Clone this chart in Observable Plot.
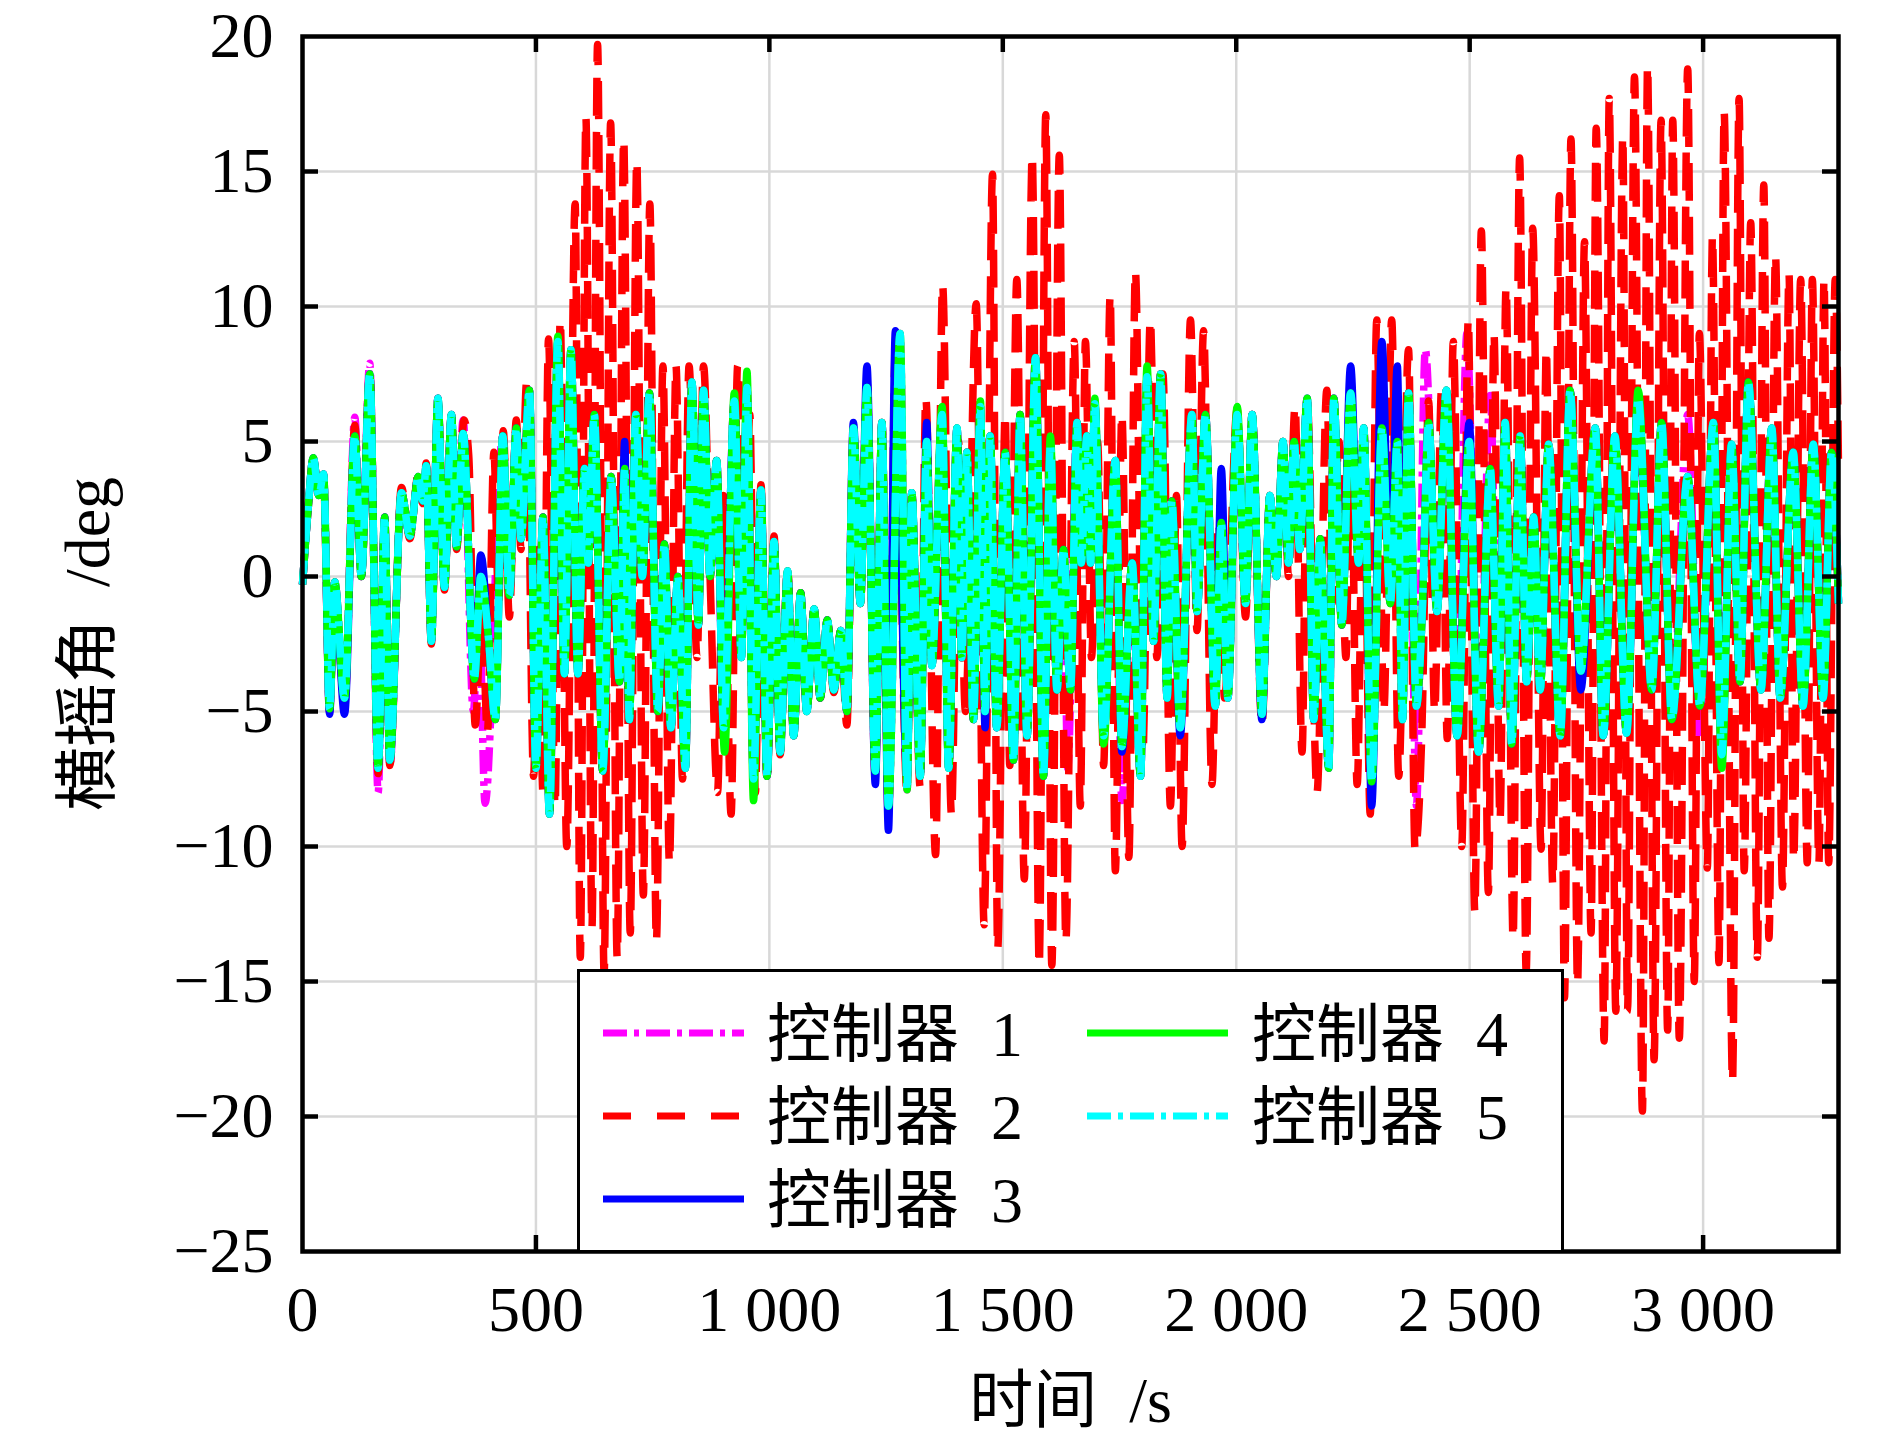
<!DOCTYPE html>
<html>
<head>
<meta charset="utf-8">
<script src="https://cdn.jsdelivr.net/npm/d3@7"></script>
<script src="https://cdn.jsdelivr.net/npm/@observablehq/plot@0.6"></script>
<style>
  html, body { margin: 0; padding: 0; background: #fff; }
  #wrap { position: relative; width: 1890px; height: 1441px; overflow: hidden; }
  #legend { position: absolute; left: 577px; top: 969px; width: 987px; height: 284px;
            box-sizing: border-box; border: 3.5px solid #000; background: #fff; }
  #legend svg { position: absolute; left: -3.5px; top: -3.5px; overflow: visible; }
</style>
</head>
<body>
<div id="wrap"></div>
<script>
// ---------------- data (time s, roll angle deg) ----------------
const xTicks = [0, 500, 1000, 1500, 2000, 2500, 3000];
const yTicks = [-25, -20, -15, -10, -5, 0, 5, 10, 15, 20];
const seriesNames = ["控制器\u20021", "控制器\u20022", "控制器\u20023", "控制器\u20024", "控制器\u20025"];
const xLabel = "时间\u2002/s";
const yLabel = "横摇角\u2002/deg";

const ctrl1 = [[0,-0.3],[12,2.5],[23,4.4],[35,3.0],[45,3.8],[58,-4.9],[69,-0.2],[90,-4.5],[112,5.9],[126,0],[144,7.9],[162,-8],[176,2.2],[187,-7],[212,3.1],[230,1.5],[248,3.7],[258,2.8],[265,4.1],[276,-2.4],[290,6.6],[304,-0.4],[319,6.0],[330,1.1],[344,5.8],[366,-5],[378,-1],[391,-8.4],[429,5.2],[443,-0.7],[458,5.5],[468,1.4],[486,6.9],[500,-7.1],[515,2.2],[529,-8.8],[547,8.7],[561,-3.6],[575,8.4],[590,-3.6],[604,4],[612,0.5],[625,6],[643,-7.2],[661,3.7],[679,-3.9],[690,4],[700,-5.3],[714,6],[728,0],[743,6.8],[761,-5],[775,1.2],[789,-5.6],[804,0],[820,-7.1],[834,7.2],[848,-1.8],[859,6.9],[873,0],[887,4.3],[902,-5.6],[925,6.5],[940,-3],[952,7],[966,-7.5],[982,3.2],[995,-7.4],[1010,1.3],[1023,-6.5],[1039,0.2],[1052,-5.9],[1067,-0.6],[1080,-5],[1096,-1.2],[1109,-4.5],[1124,-1.6],[1138,-4.2],[1153,-2],[1166,-5],[1180,5.5],[1195,-1],[1209,7],[1227,-7.2],[1241,5.7],[1255,-8.5],[1280,9],[1295,-7.9],[1305,3.1],[1323,-7.4],[1337,5],[1348,-3.3],[1370,6],[1384,-7.1],[1402,5.5],[1412,-3],[1423,4.6],[1437,-5.3],[1452,6.3],[1462,-5],[1473,5.2],[1487,-5.6],[1505,4.6],[1523,-6.8],[1537,6],[1552,-5.9],[1570,8.1],[1587,-7.4],[1602,4.9],[1616,-4.2],[1630,1],[1639,-7.1],[1659,5.7],[1668,0.5],[1680,5.2],[1688,0.5],[1697,6.4],[1716,-5.9],[1741,4.3],[1755,-8.3],[1777,0.5],[1795,-7.4],[1809,7.4],[1823,-2.4],[1838,7.5],[1852,-4.5],[1862,2.8],[1880,-5.6],[1905,6],[1916,-1.3],[1934,6],[1955,-4.8],[1968,2],[1982,-4.5],[2002,6.0],[2020,-1],[2034,6],[2055,-5.1],[2072,3],[2086,0],[2100,5],[2112,0.5],[2124,5],[2136,1],[2152,6.6],[2166,-5.3],[2180,1.4],[2198,-7.1],[2209,6.6],[2226,-1.8],[2245,6.8],[2262,0.5],[2273,5.5],[2290,-7.6],[2312,5.5],[2330,-1],[2345,5],[2356,-5.3],[2369,6.8],[2386,-8.5],[2405,8.4],[2430,-1.3],[2450,6.9],[2473,-5.9],[2494,9],[2519,-6.5],[2544,6.7],[2562,-4.8],[2576,5.7],[2590,-6.2],[2608,5.2],[2622,-3.9],[2637,2.2],[2651,-4.2],[2669,4.9],[2694,-5.9],[2715,6.9],[2738,-3.5],[2769,5.5],[2786,-5.9],[2811,5.2],[2836,-5.8],[2861,6.6],[2890,-4.2],[2911,5.7],[2933,-5.3],[2967,6],[2993,-6],[3022,5.7],[3040,-6.6],[3061,4.9],[3079,-3.9],[3097,7.2],[3124,-4.2],[3147,5.5],[3165,-4.5],[3193,4.6],[3214,-4.8],[3236,4.9],[3257,-4.5],[3275,4.6],[3290,-1]];

const ctrl2 = [[0,-0.3],[12,2.5],[23,4.3],[35,3.2],[45,3.6],[58,-5.0],[69,-0.3],[90,-4.8],[112,5.6],[126,0],[144,7.6],[162,-7.3],[176,2.0],[187,-7.0],[212,3.3],[230,1.4],[248,3.8],[258,2.7],[265,4.2],[276,-2.5],[290,6.5],[304,-0.5],[319,6.0],[330,1.0],[346,5.8],[356,4.5],[370,-5.5],[384,-1],[396,-5.8],[410,4.6],[420,-1],[430,5.4],[443,-1.5],[458,5.8],[468,1],[480,7.2],[495,-7.4],[505,1],[515,-8],[527,8.8],[541,-8.5],[552,9.5],[566,-10],[584,13.8],[595,-14.1],[607,17],[620,-13],[632,19.7],[646,-14.7],[660,16.8],[674,-14.1],[688,16.2],[702,-13.2],[716,15.4],[730,-11.8],[744,13.8],[758,-13.5],[772,7.8],[786,-10.6],[800,7.8],[814,-7.5],[828,7.8],[845,-3],[859,7.8],[873,0],[889,-8],[902,3],[918,-8.8],[932,7.8],[948,1],[958,6],[970,-8],[982,3.4],[995,-7.6],[1010,1.5],[1023,-6.6],[1039,0.3],[1052,-5.9],[1067,-0.6],[1080,-5],[1096,-1.2],[1109,-4.5],[1124,-1.6],[1138,-4.3],[1153,-2],[1166,-5.5],[1180,5],[1195,-1],[1209,7.2],[1227,-7.5],[1241,5.7],[1255,-9],[1270,8.5],[1295,-8],[1305,3],[1323,-7.8],[1335,6.6],[1356,-10.3],[1371,10.8],[1390,-8.8],[1405,5],[1420,-5],[1443,10.1],[1460,-12.9],[1478,14.9],[1489,-13.8],[1505,6],[1515,-7],[1530,11],[1546,-11.2],[1563,15.6],[1578,-14.4],[1592,17.1],[1605,-14.4],[1621,15.6],[1635,-13.5],[1653,8.7],[1666,-8.5],[1677,8.7],[1690,-3],[1703,5],[1716,-7],[1730,10.4],[1741,-10.9],[1755,6],[1770,-10.4],[1784,11.3],[1800,-6.5],[1816,9.5],[1830,-3],[1843,7.5],[1859,-8.5],[1872,3],[1884,-10],[1902,9.5],[1916,-2],[1930,9.1],[1948,-7.7],[1962,2],[1975,-4.5],[2002,6.2],[2020,-1.5],[2034,6],[2055,-5.5],[2072,3],[2086,0],[2100,5],[2112,0],[2126,6.3],[2141,-6.5],[2152,6.5],[2173,-8],[2194,6.9],[2205,-1],[2220,5],[2235,-3],[2245,6.5],[2259,-7.7],[2273,5],[2287,-8.8],[2301,9.5],[2316,-5],[2333,9.5],[2348,-7.4],[2369,8.4],[2383,-10.1],[2398,-5.5],[2412,6.5],[2425,-5],[2440,7],[2452,-6],[2465,8.7],[2483,-10],[2497,9.5],[2511,-12.4],[2525,12.8],[2540,-11.7],[2552,9],[2565,-9],[2578,10.7],[2593,-13.4],[2607,15.5],[2621,-14.6],[2635,12.9],[2653,-10.1],[2664,8.4],[2678,-11.4],[2692,14.1],[2703,-15.6],[2717,16.2],[2731,-15.1],[2746,12.4],[2760,-13.2],[2771,16.6],[2788,-17.2],[2799,17.7],[2813,-16.1],[2828,16.3],[2838,-16.1],[2853,18.5],[2870,-19.8],[2881,18.9],[2895,-17.9],[2910,16.9],[2924,-16.8],[2935,16.9],[2949,-17.1],[2967,18.8],[2981,-15],[2992,9],[3009,-10.8],[3020,12.6],[3034,-14.3],[3045,17.2],[3063,-18.7],[3077,17.7],[3088,-10.9],[3102,13.1],[3116,-14.1],[3130,14.5],[3141,-13.4],[3155,11.9],[3170,-11.5],[3184,11.2],[3194,-10.5],[3209,11],[3223,-10.6],[3234,11],[3248,-10.6],[3259,11],[3269,-10.6],[3283,11],[3290,4]];

const ctrl3 = [[0,-0.3],[12,2.5],[23,4.4],[35,3.0],[45,3.8],[58,-5.1],[69,-0.2],[90,-5.1],[112,5.2],[126,0],[144,7.5],[162,-7.1],[176,2.2],[187,-6.8],[212,3.1],[230,1.5],[248,3.7],[258,2.8],[265,4.1],[276,-2.4],[290,6.6],[304,-0.4],[319,6.0],[330,1.1],[344,5.3],[368,-3.8],[382,0.8],[398,-2.2],[413,-5.3],[429,5.2],[443,-0.7],[458,5.5],[468,1.4],[486,6.9],[500,-7.1],[515,2.2],[529,-8.8],[547,8.7],[561,-3.6],[575,8.4],[590,-3.6],[604,4],[612,0.5],[625,6],[643,-7.2],[661,3.7],[679,-3.9],[690,5],[700,-5.3],[714,6],[728,0],[743,6.8],[761,-5],[775,1.2],[789,-5.6],[804,0],[820,-7.1],[834,7.2],[848,-1.8],[859,6.9],[873,0],[887,4.3],[902,-5.6],[925,6.5],[940,-3],[952,7],[966,-7.5],[982,3.2],[995,-7.4],[1010,1.3],[1023,-6.5],[1039,0.2],[1052,-5.9],[1067,-0.6],[1080,-5],[1096,-1.2],[1109,-4.5],[1124,-1.6],[1138,-4.2],[1153,-2],[1166,-5],[1180,5.7],[1195,-1],[1209,7.8],[1227,-7.7],[1241,5.7],[1255,-9.4],[1270,9.1],[1295,-7.5],[1305,3.1],[1323,-7.4],[1337,5.7],[1348,-3.3],[1370,6],[1384,-7.1],[1402,5.5],[1412,-3],[1423,4.6],[1437,-5.3],[1452,6.3],[1462,-5.6],[1473,5.2],[1487,-5.6],[1505,4.6],[1523,-6.8],[1537,6],[1552,-5.9],[1570,8.1],[1587,-7.4],[1602,4.9],[1616,-4.2],[1630,1],[1645,-4.2],[1659,5.7],[1668,0.5],[1680,5.2],[1688,0.5],[1697,6.4],[1716,-5.9],[1741,4.3],[1755,-6.5],[1777,0.5],[1795,-7.4],[1809,7.4],[1823,-2.4],[1838,7.5],[1852,-4.5],[1862,2.8],[1880,-5.9],[1905,6],[1916,-1.3],[1934,6],[1955,-4.8],[1968,4],[1982,-4.5],[2002,6.0],[2020,-1],[2034,6],[2055,-5.3],[2072,3],[2086,0],[2100,5],[2112,0.5],[2124,5],[2136,1],[2152,6.6],[2166,-5.3],[2180,1.4],[2198,-7.1],[2209,6.6],[2226,-1.8],[2245,7.8],[2262,0.5],[2273,5.5],[2290,-8.5],[2312,8.7],[2330,-1],[2345,7.8],[2356,-5.3],[2369,6.8],[2386,-4.8],[2398,-1.5],[2412,5.7],[2430,-1.3],[2450,6.9],[2473,-5.9],[2499,5.7],[2519,-6.5],[2544,4],[2562,-4.8],[2576,5.7],[2590,-6.2],[2608,5.2],[2622,-3.9],[2637,2.2],[2651,-4.2],[2669,4.9],[2694,-5.9],[2715,6.9],[2738,-4.2],[2769,5.5],[2786,-5.9],[2811,5.2],[2836,-5.8],[2861,6.6],[2890,-4.2],[2911,5.7],[2933,-5.3],[2967,3.7],[2993,-4.8],[3022,5.7],[3040,-6.6],[3061,4.9],[3079,-3.9],[3097,7.2],[3124,-4.2],[3147,5.5],[3165,-4.5],[3193,4.6],[3214,-4.8],[3236,4.9],[3257,-4.5],[3275,4.6],[3290,-1]];

const ctrl4 = [[0,-0.3],[12,2.5],[23,4.4],[35,3.0],[45,3.8],[58,-4.9],[69,-0.2],[90,-4.5],[112,5.2],[126,0],[144,7.5],[162,-7.1],[176,2.2],[187,-6.8],[212,3.1],[230,1.5],[248,3.7],[258,2.8],[265,4.1],[276,-2.4],[290,6.6],[304,-0.4],[319,6.0],[330,1.1],[344,5.3],[368,-3.8],[382,0],[398,-2.2],[413,-5.3],[429,5.2],[443,-0.7],[458,5.5],[468,1.4],[486,6.9],[500,-7.1],[515,2.2],[529,-8.8],[547,8.9],[561,-3.6],[575,8.4],[590,-3.6],[604,4],[612,0.5],[625,6],[643,-7.2],[661,3.7],[679,-3.9],[690,4],[700,-5.3],[714,6],[728,0],[743,6.8],[761,-5],[775,1.2],[789,-5.6],[804,0],[820,-7.1],[834,7.2],[848,-1.8],[859,6.9],[873,0],[887,4.3],[904,-6.5],[925,6.8],[940,-3],[952,7.6],[966,-8.3],[982,3.2],[995,-7.4],[1010,1.3],[1023,-6.5],[1039,0.2],[1052,-5.9],[1067,-0.6],[1080,-5],[1096,-1.2],[1109,-4.5],[1124,-1.6],[1138,-4.2],[1153,-2],[1166,-5],[1180,5.5],[1195,-1],[1209,7],[1227,-7.2],[1241,5.7],[1255,-8.5],[1280,9],[1295,-7.9],[1305,3.1],[1323,-7.4],[1337,5],[1348,-3.3],[1370,6.3],[1384,-7.1],[1402,5.5],[1412,-3],[1423,4.6],[1437,-5.3],[1452,6.5],[1462,-5],[1473,5.2],[1487,-5.6],[1505,4.6],[1523,-6.8],[1537,6],[1552,-5.9],[1570,8.1],[1587,-7.4],[1602,5.2],[1616,-4.2],[1630,1],[1645,-4.2],[1659,5.7],[1668,0.5],[1680,5.2],[1688,0.5],[1697,6.6],[1716,-6.2],[1741,4.3],[1755,-6.3],[1777,0.5],[1795,-7.4],[1809,7.8],[1823,-2.4],[1838,7.5],[1852,-4.5],[1862,2.8],[1880,-5.6],[1905,6],[1916,-1.3],[1934,6],[1955,-4.8],[1968,2],[1982,-4.5],[2002,6.3],[2020,-1],[2034,6],[2055,-5.1],[2072,3],[2086,0],[2100,5],[2112,0.5],[2124,5],[2136,1],[2152,6.6],[2166,-5.3],[2180,1.4],[2198,-7.1],[2209,6.6],[2226,-1.8],[2245,6.8],[2262,0.5],[2273,5.5],[2290,-7.6],[2312,5.5],[2330,-1],[2345,5],[2356,-5.3],[2369,6.8],[2386,-4.8],[2398,-1.5],[2412,5.7],[2430,-1.3],[2450,6.9],[2473,-5.9],[2499,5],[2519,-6.5],[2544,4],[2562,-4.8],[2576,5.7],[2590,-6.2],[2608,5.2],[2622,-3.9],[2637,2.2],[2651,-4.2],[2669,4.9],[2694,-5.9],[2715,6.9],[2738,-3.5],[2769,5.5],[2786,-5.9],[2811,5.2],[2836,-5.8],[2861,6.9],[2890,-4.2],[2911,5.7],[2933,-5.3],[2967,3.7],[2993,-4.8],[3022,5.7],[3040,-7.1],[3061,4.9],[3079,-3.9],[3097,7.2],[3124,-4.2],[3147,5.5],[3165,-4.5],[3193,4.6],[3214,-4.8],[3236,4.9],[3257,-4.5],[3275,4.6],[3290,-1]];

const ctrl5 = [[0,-0.3],[12,2.5],[23,4.4],[35,3.0],[45,3.8],[58,-4.9],[69,-0.2],[90,-4.5],[112,5.2],[126,0],[144,7.5],[162,-7.1],[176,2.2],[187,-6.8],[212,3.1],[230,1.5],[248,3.7],[258,2.8],[265,4.1],[276,-2.4],[290,6.6],[304,-0.4],[319,6.0],[330,1.1],[344,5.3],[368,-3.8],[382,0],[398,-2.2],[413,-5.3],[429,5.2],[443,-0.7],[458,5.5],[468,1.4],[486,6.9],[500,-7.1],[515,2.2],[529,-8.8],[547,8.7],[561,-3.6],[575,8.4],[590,-3.6],[604,4],[612,0.5],[625,6],[643,-7.2],[661,3.7],[679,-3.9],[690,4],[700,-5.3],[714,6],[728,0],[743,6.8],[761,-5],[775,1.2],[789,-5.6],[804,0],[820,-7.1],[834,7.2],[848,-1.8],[859,6.9],[873,0],[887,4.3],[902,-5.6],[925,6.5],[940,-3],[952,7],[966,-7.5],[982,3.2],[995,-7.4],[1010,1.3],[1023,-6.5],[1039,0.2],[1052,-5.9],[1067,-0.6],[1080,-5],[1096,-1.2],[1109,-4.5],[1124,-1.6],[1138,-4.2],[1153,-2],[1166,-5],[1180,5.5],[1195,-1],[1209,7],[1227,-7.2],[1241,5.7],[1255,-8.5],[1280,9],[1295,-7.9],[1305,3.1],[1323,-7.4],[1337,5],[1348,-3.3],[1370,6],[1384,-7.1],[1402,5.5],[1412,-3],[1423,4.6],[1437,-5.3],[1452,6.3],[1462,-5],[1473,5.2],[1487,-5.6],[1505,4.6],[1523,-6.8],[1537,6],[1552,-5.9],[1570,8.1],[1587,-7.4],[1602,4.9],[1616,-4.2],[1630,1],[1645,-4.2],[1659,5.7],[1668,0.5],[1680,5.2],[1688,0.5],[1697,6.4],[1716,-5.9],[1741,4.3],[1755,-6.3],[1777,0.5],[1795,-7.4],[1809,7.4],[1823,-2.4],[1838,7.5],[1852,-4.5],[1862,2.8],[1880,-5.6],[1905,6],[1916,-1.3],[1934,6],[1955,-4.8],[1968,2],[1982,-4.5],[2002,6.0],[2020,-1],[2034,6],[2055,-5.1],[2072,3],[2086,0],[2100,5],[2112,0.5],[2124,5],[2136,1],[2152,6.6],[2166,-5.3],[2180,1.4],[2198,-7.1],[2209,6.6],[2226,-1.8],[2245,6.8],[2262,0.5],[2273,5.5],[2290,-7.6],[2312,5.5],[2330,-1],[2345,5],[2356,-5.3],[2369,6.8],[2386,-4.8],[2398,-1.5],[2412,5.7],[2430,-1.3],[2450,6.9],[2473,-5.9],[2499,5],[2519,-6.5],[2544,4],[2562,-4.8],[2576,5.7],[2590,-6.2],[2608,5.2],[2622,-3.9],[2637,2.2],[2651,-4.2],[2669,4.9],[2694,-5.9],[2715,6.9],[2738,-3.5],[2769,5.5],[2786,-5.9],[2811,5.2],[2836,-5.8],[2861,6.6],[2890,-4.2],[2911,5.7],[2933,-5.3],[2967,3.7],[2993,-4.8],[3022,5.7],[3040,-6.6],[3061,4.9],[3079,-3.9],[3097,7.2],[3124,-4.2],[3147,5.5],[3165,-4.5],[3193,4.6],[3214,-4.8],[3236,4.9],[3257,-4.5],[3275,4.6],[3290,-1]];

// ---------------- styling ----------------
const colors = ["#ff00ff", "#ff0000", "#0000ff", "#00ff00", "#00ffff"];
const dashes = ["24,7,5,7", "38,16", null, null, "24,7,5,7"];
const legendDashes = ["24,7,5,7", "28,26", null, null, "24,7,5,7"];
const seriesData = [ctrl1, ctrl2, ctrl3, ctrl4, ctrl5];

const W = 1890, H = 1441, ML = 302, MR = 52, MT = 36, MB = 190;
const PW = W - ML - MR, PH = H - MT - MB;
const LW = 7.5, TICK = 16;
const serif = "'Liberation Serif','Noto Sans CJK SC',serif";

const fmtY = d => d < 0 ? "\u2212" + (-d) : String(d);
const fmtX = d => d >= 1000 ? `${Math.floor(d / 1000)} ${String(d % 1000).padStart(3, "0")}` : String(d);

const innerX = xTicks.filter(d => d > 0);
const innerY = yTicks.filter(d => d > -25 && d < 20);

const lineMarks = seriesData.map((data, i) => Plot.line(data, {
  x: d => d[0], y: d => d[1],
  stroke: colors[i], strokeWidth: LW,
  strokeDasharray: dashes[i] ?? undefined,
  strokeLinecap: "butt", strokeLinejoin: "round",
  curve: "monotone-x"
}));

const chart = Plot.plot({
  width: W, height: H,
  marginLeft: ML, marginRight: MR, marginTop: MT, marginBottom: MB,
  x: {domain: [0, 3290], axis: null},
  y: {domain: [-25, 20], axis: null},
  style: {fontFamily: serif, background: "white", color: "black", overflow: "visible"},
  marks: [
    Plot.gridX(innerX, {stroke: "#d8d8d8", strokeOpacity: 1, strokeWidth: 2.5}),
    Plot.gridY(innerY, {stroke: "#d8d8d8", strokeOpacity: 1, strokeWidth: 2.5}),
    ...lineMarks,
    // inward ticks on all four sides
    Plot.tickY(innerY, {y: d => d, insetRight: PW - TICK, stroke: "black", strokeWidth: 4.5}),
    Plot.tickY(innerY, {y: d => d, insetLeft: PW - TICK, stroke: "black", strokeWidth: 4.5}),
    Plot.tickX(innerX, {x: d => d, insetTop: PH - TICK, stroke: "black", strokeWidth: 4.5}),
    Plot.tickX(innerX, {x: d => d, insetBottom: PH - TICK, stroke: "black", strokeWidth: 4.5}),
    Plot.frame({stroke: "black", strokeWidth: 4.5}),
    Plot.axisY(yTicks, {anchor: "left", tickSize: 0, tickPadding: 29, tickFormat: fmtY, fontSize: 64, label: null}),
    Plot.axisX(xTicks, {anchor: "bottom", tickSize: 0, tickPadding: 34, tickFormat: fmtX, fontSize: 64, label: null}),
    Plot.text([xLabel], {text: d => d, frameAnchor: "bottom", dy: 150, textAnchor: "middle", lineAnchor: "middle", fontSize: 64, fontFamily: serif}),
    Plot.text([yLabel], {text: d => d, frameAnchor: "left", dx: -214, rotate: -90, textAnchor: "middle", lineAnchor: "middle", fontSize: 64, fontFamily: serif})
  ]
});

const wrap = document.getElementById("wrap");
wrap.appendChild(chart);

// ---------------- legend (inside the axes, bottom centre) ----------------
const legend = document.createElement("div");
legend.id = "legend";
const ns = "http://www.w3.org/2000/svg";
const lsvg = document.createElementNS(ns, "svg");
lsvg.setAttribute("width", 987);
lsvg.setAttribute("height", 284);
const cols = [{x1: 26, x2: 167, tx: 190}, {x1: 510, x2: 651, tx: 675}];
const rows = [64, 147, 230];
const slots = [[0, 0], [0, 1], [0, 2], [1, 0], [1, 1]];
seriesNames.forEach((name, i) => {
  const [c, r] = slots[i];
  const col = cols[c], y = rows[r];
  const ln = document.createElementNS(ns, "line");
  ln.setAttribute("x1", col.x1); ln.setAttribute("x2", col.x2);
  ln.setAttribute("y1", y); ln.setAttribute("y2", y);
  ln.setAttribute("stroke", colors[i]);
  ln.setAttribute("stroke-width", 7);
  if (legendDashes[i]) ln.setAttribute("stroke-dasharray", legendDashes[i]);
  lsvg.appendChild(ln);
  const tx = document.createElementNS(ns, "text");
  tx.setAttribute("x", col.tx);
  tx.setAttribute("y", y + 23);
  tx.setAttribute("font-size", 64);
  tx.setAttribute("font-family", serif);
  tx.textContent = name;
  lsvg.appendChild(tx);
});
legend.appendChild(lsvg);
wrap.appendChild(legend);
</script>
</body>
</html>
